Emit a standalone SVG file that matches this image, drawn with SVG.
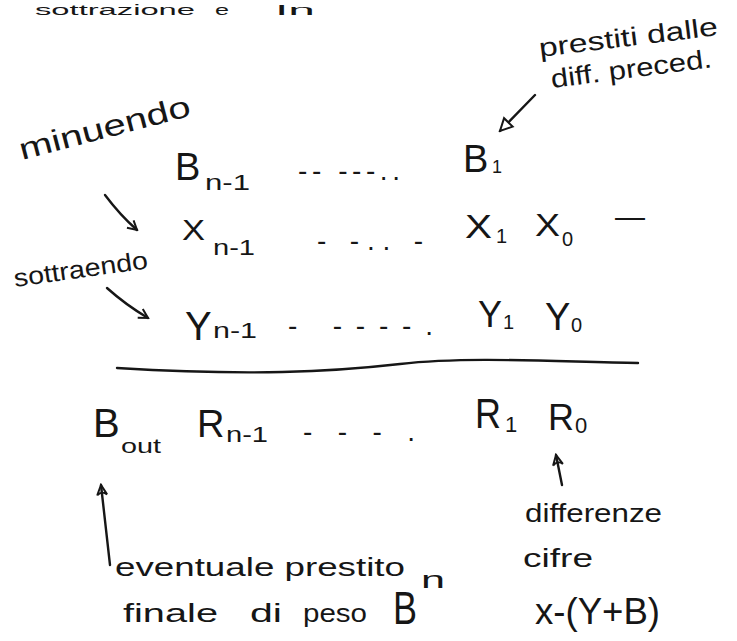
<svg xmlns="http://www.w3.org/2000/svg" width="737" height="641" viewBox="0 0 737 641">
<style>
text{font-family:"Liberation Sans","DejaVu Sans",sans-serif;fill:#161616}
.lbl{font-size:26px}
.sub{font-size:22px}
.dash{font-size:28px}
.ttl{font-size:14px}
.ln{fill:none;stroke:#161616;stroke-width:2.4;stroke-linecap:round}
</style>
<defs>
<marker id="open" viewBox="0 0 12 12" refX="10" refY="6" markerWidth="12" markerHeight="12" markerUnits="userSpaceOnUse" orient="auto">
<path d="M1,1 L10,6 L1,11" fill="none" stroke="#161616" stroke-width="2"/>
</marker>
<marker id="hollow" viewBox="0 0 16 16" refX="14" refY="8" markerWidth="16" markerHeight="16" markerUnits="userSpaceOnUse" orient="auto">
<path d="M2,2 L14,8 L2,14 Z" fill="#fff" stroke="#161616" stroke-width="2"/>
</marker>
<marker id="hook" viewBox="0 0 14 14" refX="12" refY="7" markerWidth="14" markerHeight="14" markerUnits="userSpaceOnUse" orient="auto">
<path d="M2,2 L12,7 L2,12 C5,9 5,5 2,2" fill="none" stroke="#161616" stroke-width="2"/>
</marker>
</defs>
<rect width="737" height="641" fill="#fff"/>

<g id="title">
<text class="ttl" x="35" y="15" textLength="160" lengthAdjust="spacingAndGlyphs">sottrazione</text>
<text class="ttl" x="215" y="15" textLength="14" lengthAdjust="spacingAndGlyphs">e</text>
<text class="ttl" x="275" y="15" textLength="40" lengthAdjust="spacingAndGlyphs">In</text>
</g>

<g id="connectors">
<path class="ln" d="M535,95 L500,131" marker-end="url(#hollow)"/>
<path class="ln" d="M105,195 Q120,215 137,230" marker-end="url(#open)"/>
<path class="ln" d="M107,288 Q126,305 148,318" marker-end="url(#open)"/>
<path class="ln" d="M562,485 L556,455" marker-end="url(#hook)"/>
<path class="ln" d="M110,565 L101,485" marker-end="url(#hook)"/>
<path class="ln" d="M117,368 C250,376 330,372 400,364 S560,362 638,363"/>
</g>

<g id="note-prestiti">
<text class="lbl" transform="translate(540,57) rotate(-7)" textLength="180" lengthAdjust="spacingAndGlyphs">prestiti dalle</text>
<text class="lbl" transform="translate(552,88) rotate(-7.4)" textLength="162" lengthAdjust="spacingAndGlyphs">diff. preced.</text>
</g>

<g id="note-minuendo">
<text style="font-size:30px" transform="translate(22,160) rotate(-14.7)" textLength="176" lengthAdjust="spacingAndGlyphs">minuendo</text>
</g>

<g id="note-sottraendo">
<text style="font-size:25px" transform="translate(15,287) rotate(-8)" textLength="135" lengthAdjust="spacingAndGlyphs">sottraendo</text>
</g>

<g id="row-B">
<text x="175" y="180" style="font-size:38px">B<tspan x="205" y="190" style="font-size:22px" textLength="45" lengthAdjust="spacingAndGlyphs">n-1</tspan></text>
<text class="dash" x="298" y="180" textLength="102" lengthAdjust="spacing">-- ---..</text>
<text x="463" y="172" style="font-size:38px">B<tspan x="492" y="173" style="font-size:18px">1</tspan></text>
</g>

<g id="row-X">
<text x="182" y="240" style="font-size:30px"><tspan textLength="23" lengthAdjust="spacingAndGlyphs">X</tspan><tspan x="213" y="255" style="font-size:22px" textLength="42" lengthAdjust="spacingAndGlyphs">n-1</tspan></text>
<text class="dash" x="317" y="250" textLength="106" lengthAdjust="spacing">- -.. -</text>
<text x="465" y="238" style="font-size:34px"><tspan textLength="27" lengthAdjust="spacingAndGlyphs">X</tspan><tspan x="496" y="243" style="font-size:20px">1</tspan></text>
<text x="535" y="236" style="font-size:32px"><tspan textLength="25" lengthAdjust="spacingAndGlyphs">X</tspan><tspan x="562" y="246" style="font-size:20px">0</tspan></text>
<text x="615" y="227" style="font-size:30px" textLength="30" lengthAdjust="spacingAndGlyphs">—</text>
</g>

<g id="row-Y">
<text x="185" y="340" style="font-size:40px">Y<tspan x="213" y="338" style="font-size:22px" textLength="44" lengthAdjust="spacingAndGlyphs">n-1</tspan></text>
<text class="dash" x="288" y="335" textLength="145" lengthAdjust="spacing">- ----.</text>
<text x="478" y="327" style="font-size:36px">Y<tspan x="503" y="329" style="font-size:20px">1</tspan></text>
<text x="545" y="330" style="font-size:38px">Y<tspan x="571" y="332" style="font-size:20px">0</tspan></text>
</g>

<g id="row-R">
<text x="93" y="437" style="font-size:40px">B<tspan x="121" y="453" style="font-size:20px" textLength="40" lengthAdjust="spacingAndGlyphs">out</tspan></text>
<text x="197" y="437" style="font-size:38px">R<tspan x="226" y="442" style="font-size:22px" textLength="42" lengthAdjust="spacingAndGlyphs">n-1</tspan></text>
<text class="dash" x="303" y="441" textLength="112" lengthAdjust="spacing">- - - .</text>
<text x="475" y="428" style="font-size:42px"><tspan textLength="26" lengthAdjust="spacingAndGlyphs">R</tspan><tspan x="505" y="432" style="font-size:22px">1</tspan></text>
<text x="548" y="430" style="font-size:36px">R<tspan x="575" y="433" style="font-size:22px">0</tspan></text>
</g>

<g id="note-differenze">
<text class="lbl" x="525" y="522" textLength="137" lengthAdjust="spacingAndGlyphs">differenze</text>
<text class="lbl" x="523" y="567" textLength="70" lengthAdjust="spacingAndGlyphs">cifre</text>
<text x="535" y="624" style="font-size:36px" textLength="125" lengthAdjust="spacingAndGlyphs">x-(Y+B)</text>
</g>

<g id="note-eventuale">
<text class="lbl" x="115" y="576" textLength="290" lengthAdjust="spacingAndGlyphs">eventuale prestito</text>
<text class="lbl" x="123" y="622" textLength="95" lengthAdjust="spacingAndGlyphs">finale</text>
<text class="lbl" x="250" y="622" textLength="32" lengthAdjust="spacingAndGlyphs">di</text>
<text class="lbl" x="303" y="622" textLength="64" lengthAdjust="spacingAndGlyphs">peso</text>
<text x="393" y="624" style="font-size:46px"><tspan textLength="24" lengthAdjust="spacingAndGlyphs">B</tspan><tspan x="421" y="588" style="font-size:24px" textLength="24" lengthAdjust="spacingAndGlyphs">n</tspan></text>
</g>
</svg>
